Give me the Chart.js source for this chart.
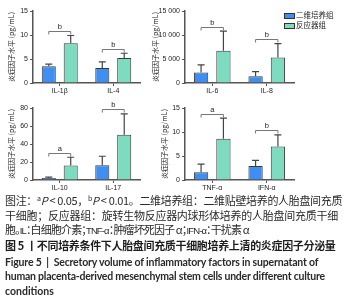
<!DOCTYPE html>
<html>
<head>
<meta charset="utf-8">
<script src="https://cdn.jsdelivr.net/npm/chart.js@4.4.1/dist/chart.umd.min.js"></script>
<style>
body { margin: 0; width: 348px; height: 300px; overflow: hidden; background: #fff; position: relative; }
canvas { position: absolute; }
.lg { position: absolute; left: 284px; font: 7.5px 'Noto Sans CJK SC', sans-serif; color: #222; white-space: nowrap; }
.lg i { display: inline-block; width: 9px; height: 4px; border: 1px solid #333; vertical-align: middle; margin-right: 1px; }
.cap { position: absolute; left: 5px; white-space: nowrap; line-height: 14px; color: #2a2a2a; font-family: 'Noto Sans CJK SC', sans-serif; font-size: 11px; }
.cap.b { font-weight: bold; color: #1e1e1e; }
.cap.en { font-family: Lato, sans-serif; font-weight: bold; font-size: 10.5px; color: #2a2a2a; }
.cap.tight { font-feature-settings: "palt"; }
.cap .lat { font-family: 'Liberation Sans Narrow', 'Liberation Sans', sans-serif; font-size: 9.5px; }
sup { font-size: 7px; vertical-align: 4px; line-height: 0; }
</style>
</head>
<body>
<canvas id="c1" width="153" height="97" style="left:0;top:0"></canvas>
<canvas id="c2" width="200" height="97" style="left:148px;top:0"></canvas>
<canvas id="c3" width="153" height="97" style="left:0;top:97px"></canvas>
<canvas id="c4" width="200" height="97" style="left:148px;top:97px"></canvas>

<div class="lg" style="top:9px"><i style="background:#3f8ef2"></i>二维培养组</div>
<div class="lg" style="top:19px"><i style="background:#7ddbbf"></i>反应器组</div>

<div class="cap" data-w="337" style="top:193px">图注：<sup>a</sup><i>P</i> &lt; 0.05，<sup>b</sup><i>P</i> &lt; 0.01。二维培养组：二维贴壁培养的人胎盘间充质</div>
<div class="cap" data-w="333" style="top:208px">干细胞；反应器组：旋转生物反应器内球形体培养的人胎盘间充质干细</div>
<div class="cap tight" data-w="244" style="top:222px">胞。<span class="lat">IL</span>：白细胞介素；<span class="lat">TNF-α</span>：肿瘤坏死因子 α；<span class="lat">IFN-α</span>：干扰素 α</div>
<div class="cap b" data-w="330" style="top:238px">图 5 丨不同培养条件下人胎盘间充质干细胞培养上清的炎症因子分泌量</div>
<div class="cap en" data-w="313" style="top:255px">Figure 5 &nbsp;|&nbsp; Secretory volume of inflammatory factors in supernatant of</div>
<div class="cap en" data-w="320" style="top:269px">human placenta-derived mesenchymal stem cells under different culture</div>
<div class="cap en" style="top:284px">conditions</div>

<script>
// groups
const groups = ['二维培养组', '反应器组'];

// IL-1β / IL-4
const catsA = ['IL-1β', 'IL-4'];
const twoDA = [3.5, 3.1];
const twoDAErr = [0.45, 1.3];
const reacA = [8.3, 5.2];
const reacAErr = [1.6, 1.0];
const sigA = ['b', 'b'];

// IL-6 / IL-8
const catsB = ['IL-6', 'IL-8'];
const twoDB = [2170, 1400];
const twoDBErr = [1620, 980];
const reacB = [6730, 5330];
const reacBErr = [4070, 2870];
const sigB = ['b', 'b'];

// IL-10 / IL-17
const catsC = ['IL-10', 'IL-17'];
const twoDC = [2.2, 16.5];
const twoDCErr = [1.1, 9.9];
const reacC = [16.1, 50.3];
const reacCErr = [9.2, 23.1];
const sigC = ['a', 'b'];

// TNF-α / IFN-α
const catsD = ['TNF-α', 'IFN-α'];
const twoDD = [1.6, 2.9];
const twoDDErr = [1.7, 1.2];
const reacD = [8.6, 7.0];
const reacDErr = [4.3, 2.4];
const sigD = ['a', 'b'];

const yTitle = '炎症因子水平 (pg/mL)';
const blue = '#3f8ef2';
const green = '#7ddbbf';
const axisCol = '#555';

const errorBars = {
  id: 'errorBars',
  afterDatasetsDraw(chart) {
    const ctx = chart.ctx;
    const y = chart.scales.y;
    ctx.save();
    ctx.strokeStyle = '#444';
    ctx.lineWidth = 1.2;
    chart.data.datasets.forEach((ds, i) => {
      chart.getDatasetMeta(i).data.forEach((bar, j) => {
        const top = y.getPixelForValue(ds.data[j] + ds.errors[j]);
        ctx.beginPath();
        ctx.moveTo(bar.x, bar.y);
        ctx.lineTo(bar.x, top);
        ctx.moveTo(bar.x - 3.5, top);
        ctx.lineTo(bar.x + 3.5, top);
        ctx.stroke();
      });
    });
    // significance brackets
    const sig = chart.options.plugins.sig.labels;
    const m0 = chart.getDatasetMeta(0).data;
    const m1 = chart.getDatasetMeta(1).data;
    const d = chart.data.datasets;
    ctx.strokeStyle = '#777';
    ctx.lineWidth = 1;
    ctx.fillStyle = '#222';
    ctx.font = '7.5px Arial';
    ctx.textAlign = 'center';
    ctx.textBaseline = 'bottom';
    sig.forEach((s, j) => {
      const top = Math.min(y.getPixelForValue(d[0].data[j] + d[0].errors[j]),
                           y.getPixelForValue(d[1].data[j] + d[1].errors[j]));
      const by = Math.round(top - 4.5) + 0.5;
      ctx.beginPath();
      ctx.moveTo(m0[j].x, by + 3);
      ctx.lineTo(m0[j].x, by);
      ctx.lineTo(m1[j].x, by);
      ctx.lineTo(m1[j].x, by + 3);
      ctx.stroke();
      ctx.fillText(s, (m0[j].x + m1[j].x) / 2, by - 1);
    });
    ctx.restore();
  }
};

function thousands(v) {
  return v >= 1000 ? String(v).replace(/\B(?=(\d{3})+(?!\d))/g, ' ') : String(v);
}

function makeChart(id, cats, a, aErr, b, bErr, sig, max, step, padLeft, yWidth, padRight) {
  return new Chart(document.getElementById(id), {
    type: 'bar',
    data: {
      labels: cats,
      datasets: [
        { label: groups[0], data: a, errors: aErr, backgroundColor: blue },
        { label: groups[1], data: b, errors: bErr, backgroundColor: green }
      ]
    },
    options: {
      responsive: false,
      animation: false,
      devicePixelRatio: 1,
      datasets: {
        bar: { borderColor: '#3a3a3a', borderWidth: 1, barPercentage: 0.64, categoryPercentage: 0.82 }
      },
      layout: { padding: { top: 11, left: padLeft, right: padRight, bottom: 0 } },
      plugins: {
        legend: { display: false },
        tooltip: { enabled: false },
        sig: { labels: sig }
      },
      scales: {
        x: {
          grid: { display: true, drawOnChartArea: false, offset: false, tickLength: 3, color: axisCol, lineWidth: 1 },
          border: { color: axisCol, width: 1.5 },
          ticks: { color: '#222', font: { size: 7, family: 'Arial' }, padding: 1, maxRotation: 0 },
          afterFit(s) { s.height = 14; }
        },
        y: {
          min: 0,
          max: max,
          grid: { display: true, drawOnChartArea: false, tickLength: 3, color: axisCol, lineWidth: 1 },
          border: { color: axisCol, width: 1.5 },
          ticks: { stepSize: step, color: '#222', font: { size: 7, family: 'Arial' }, padding: 2, callback: v => thousands(v) },
          title: { display: true, text: yTitle, color: '#222', font: { size: 7, family: "'Noto Sans CJK SC'" }, padding: { top: 0, bottom: 2 } },
          afterFit(s) { s.width = yWidth; }
        }
      }
    },
    plugins: [errorBars]
  });
}

makeChart('c1', catsA, twoDA, twoDAErr, reacA, reacAErr, sigA, 15, 5, 7, 26, 13);
makeChart('c2', catsB, twoDB, twoDBErr, reacB, reacBErr, sigB, 15000, 5000, 3, 34, 54);
makeChart('c3', catsC, twoDC, twoDCErr, reacC, reacCErr, sigC, 80, 20, 7, 26, 13);
makeChart('c4', catsD, twoDD, twoDDErr, reacD, reacDErr, sigD, 15, 5, 12, 25, 54);

// stretch caption lines to the width they take in the figure
document.querySelectorAll('.cap[data-w]').forEach(el => {
  const target = +el.dataset.w;
  const n = el.textContent.length;
  const diff = target - el.scrollWidth;
  el.style.letterSpacing = (diff / n).toFixed(3) + 'px';
});
</script>
</body>
</html>
